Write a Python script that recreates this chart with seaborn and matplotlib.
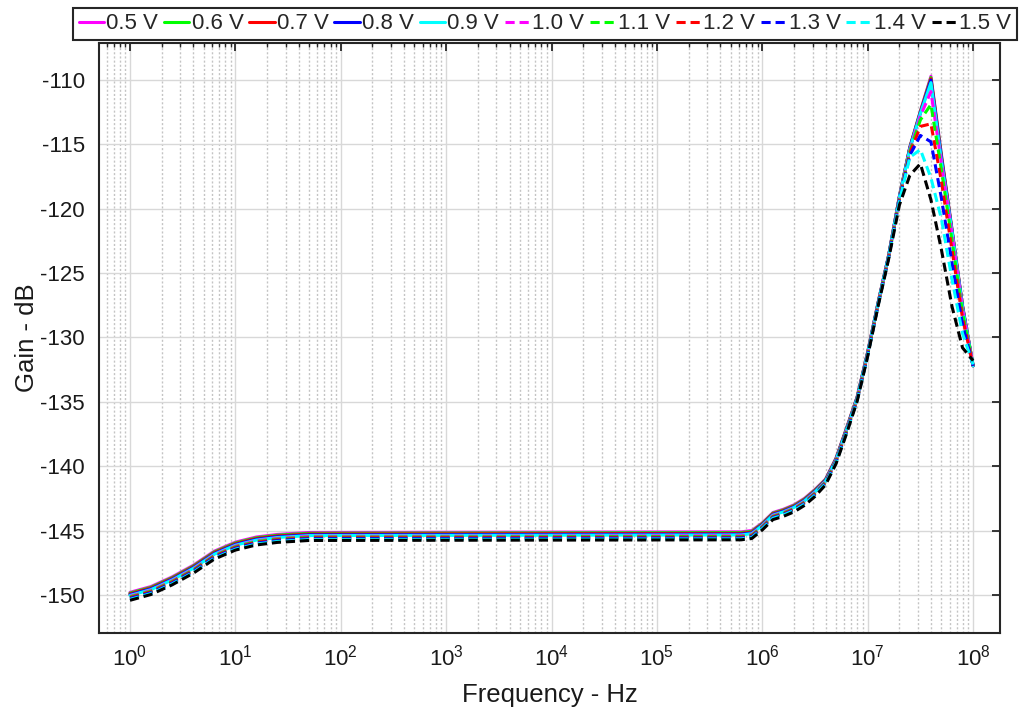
import numpy as np
import pandas as pd
import matplotlib
matplotlib.use("Agg")
import matplotlib.pyplot as plt
from matplotlib.lines import Line2D
from matplotlib.ticker import FixedLocator, LogLocator, NullFormatter
import seaborn as sns

# ---------------- data ----------------
freq_hz = [1, 1.58, 2.51, 3.98, 6.31, 10, 15.8, 25.1, 50, 6.31e5, 7.94e5,
           1e6, 1.26e6, 1.58e6, 2e6, 2.51e6, 3.16e6, 3.98e6, 5.01e6, 6.31e6, 7.94e6,
           1e7, 1.26e7, 1.58e7, 2e7, 2.51e7, 3.16e7, 3.98e7, 5.01e7, 6.31e7, 7.94e7, 1e8]

gain_0v5 = [-149.80, -149.35, -148.60, -147.70, -146.60, -145.90, -145.50, -145.30, -145.15, -145.10, -145.00,
            -144.40, -143.60, -143.35, -143.00, -142.50, -141.80, -141.00, -139.35, -137.00, -134.60,
            -131.10, -127.20, -123.60, -119.00, -115.20, -112.40, -109.70, -115.80, -121.60, -127.50, -132.20]
gain_0v6 = [-149.86, -149.41, -148.66, -147.76, -146.66, -145.96, -145.56, -145.36, -145.21, -145.16, -145.06,
            -144.45, -143.65, -143.40, -143.05, -142.55, -141.85, -141.04, -139.39, -137.04, -134.63,
            -131.13, -127.23, -123.62, -119.02, -115.22, -112.45, -109.80, -115.90, -121.65, -127.55, -132.20]
gain_0v7 = [-149.92, -149.47, -148.72, -147.82, -146.72, -146.02, -145.62, -145.42, -145.27, -145.22, -145.12,
            -144.50, -143.70, -143.45, -143.10, -142.60, -141.90, -141.08, -139.43, -137.08, -134.66,
            -131.16, -127.25, -123.64, -119.05, -115.25, -112.50, -109.90, -116.00, -121.70, -127.60, -132.20]
gain_0v8 = [-149.98, -149.53, -148.78, -147.88, -146.78, -146.08, -145.68, -145.48, -145.33, -145.28, -145.18,
            -144.55, -143.75, -143.50, -143.15, -142.65, -141.95, -141.12, -139.47, -137.12, -134.70,
            -131.20, -127.28, -123.66, -119.08, -115.30, -112.55, -110.00, -116.10, -121.75, -127.65, -132.20]
gain_0v9 = [-150.04, -149.59, -148.84, -147.94, -146.84, -146.14, -145.74, -145.54, -145.39, -145.34, -145.24,
            -144.60, -143.80, -143.55, -143.20, -142.70, -142.00, -141.16, -139.51, -137.16, -134.73,
            -131.23, -127.30, -123.68, -119.10, -115.35, -112.60, -110.20, -116.30, -121.80, -127.70, -132.20]
gain_1v0 = [-150.10, -149.65, -148.90, -148.00, -146.90, -146.20, -145.80, -145.60, -145.45, -145.40, -145.30,
            -144.65, -143.85, -143.60, -143.25, -142.75, -142.05, -141.20, -139.55, -137.20, -134.76,
            -131.26, -127.32, -123.70, -119.15, -115.45, -112.80, -110.90, -116.50, -122.00, -127.85, -132.20]
gain_1v1 = [-150.16, -149.71, -148.96, -148.06, -146.96, -146.26, -145.86, -145.66, -145.51, -145.46, -145.36,
            -144.70, -143.90, -143.65, -143.30, -142.80, -142.10, -141.24, -139.59, -137.24, -134.79,
            -131.29, -127.34, -123.72, -119.20, -115.55, -113.10, -111.90, -117.00, -122.50, -128.10, -132.20]
gain_1v2 = [-150.22, -149.77, -149.02, -148.12, -147.02, -146.32, -145.92, -145.72, -145.57, -145.52, -145.42,
            -144.75, -143.95, -143.70, -143.35, -142.85, -142.15, -141.28, -139.63, -137.28, -134.82,
            -131.32, -127.36, -123.74, -119.25, -115.70, -113.60, -113.40, -117.90, -123.20, -128.50, -132.20]
gain_1v3 = [-150.28, -149.83, -149.08, -148.18, -147.08, -146.38, -145.98, -145.78, -145.63, -145.58, -145.48,
            -144.80, -144.00, -143.75, -143.40, -142.90, -142.20, -141.32, -139.67, -137.32, -134.85,
            -131.35, -127.38, -123.76, -119.30, -115.85, -114.30, -114.80, -119.20, -124.20, -129.00, -132.20]
gain_1v4 = [-150.35, -149.90, -149.15, -148.25, -147.15, -146.45, -146.05, -145.85, -145.70, -145.65, -145.55,
            -144.85, -144.05, -143.80, -143.45, -142.95, -142.25, -141.36, -139.71, -137.36, -134.88,
            -131.38, -127.40, -123.78, -119.40, -116.00, -115.40, -117.60, -120.80, -125.50, -129.70, -132.10]
gain_1v5 = [-150.42, -149.97, -149.22, -148.32, -147.22, -146.52, -146.12, -145.92, -145.77, -145.72, -145.62,
            -144.95, -144.15, -143.90, -143.55, -143.05, -142.35, -141.45, -139.80, -137.45, -134.95,
            -131.45, -127.50, -123.90, -119.70, -117.40, -116.50, -119.30, -123.20, -127.60, -130.80, -131.80]

supply_labels = ["0.5 V", "0.6 V", "0.7 V", "0.8 V", "0.9 V",
                 "1.0 V", "1.1 V", "1.2 V", "1.3 V", "1.4 V", "1.5 V"]
gains = [gain_0v5, gain_0v6, gain_0v7, gain_0v8, gain_0v9,
         gain_1v0, gain_1v1, gain_1v2, gain_1v3, gain_1v4, gain_1v5]

x_tick_values = [1e0, 1e1, 1e2, 1e3, 1e4, 1e5, 1e6, 1e7, 1e8]
y_tick_values = [-150, -145, -140, -135, -130, -125, -120, -115, -110]

# ---------------- styles ----------------
line_colors = ["#FF00FF", "#00FF00", "#FF0000", "#0000FF", "#00FFFF",
               "#FF00FF", "#00FF00", "#FF0000", "#0000FF", "#00FFFF", "#000000"]
dash_on = (3.0, 1.6)
line_dashes = ["", "", "", "", "", dash_on, dash_on, dash_on, dash_on, dash_on, dash_on]
LW = 2.2
INK = "#262626"

sns.set_theme(style="white")
plt.rcParams["font.family"] = ["Liberation Sans", "DejaVu Sans"]
plt.rcParams["axes.unicode_minus"] = False
plt.rcParams["mathtext.fontset"] = "custom"
plt.rcParams["mathtext.rm"] = "Liberation Sans"
plt.rcParams["mathtext.it"] = "Liberation Sans:italic"
plt.rcParams["mathtext.bf"] = "Liberation Sans:bold"
plt.rcParams["mathtext.default"] = "regular"

df = pd.concat(
    [pd.DataFrame({"Frequency": freq_hz, "Gain": g, "Supply": s})
     for s, g in zip(supply_labels, gains)],
    ignore_index=True,
)

fig = plt.figure(figsize=(10.24, 7.11), dpi=100)
ax = fig.add_axes([99 / 1024, 1 - 633 / 711, 901 / 1024, 590 / 711])

sns.lineplot(
    data=df, x="Frequency", y="Gain", hue="Supply", style="Supply",
    hue_order=supply_labels, style_order=supply_labels,
    palette=dict(zip(supply_labels, line_colors)),
    dashes=dict(zip(supply_labels, line_dashes)),
    estimator=None, sort=False, linewidth=LW, legend=False, ax=ax,
)

ax.set_xscale("log")
ax.set_xlim(0.508, 1.8e8)
ax.set_ylim(-152.96, -107.12)

ax.xaxis.set_major_locator(FixedLocator(x_tick_values))
ax.xaxis.set_minor_locator(LogLocator(base=10, subs=np.arange(2, 10), numticks=100))
ax.xaxis.set_minor_formatter(NullFormatter())
ax.yaxis.set_major_locator(FixedLocator(y_tick_values))

ax.grid(which="major", axis="both", color="#d8d8d8", linewidth=1.0, linestyle="-")
ax.grid(which="minor", axis="x", color="#c4c4c4", linewidth=1.0, linestyle=(0, (1.5, 1.5)))
ax.set_axisbelow(True)

ax.tick_params(which="both", direction="in", top=True, right=True,
               colors=INK, labelcolor="#1a1a1a")
ax.tick_params(which="major", length=5.5, width=1.3, labelsize=16)
ax.tick_params(which="minor", length=3, width=1.0)
ax.tick_params(axis="x", which="major", pad=8)
ax.tick_params(axis="y", which="major", pad=10)

for sp in ax.spines.values():
    sp.set_color(INK)
    sp.set_linewidth(1.5)

ax.set_xlabel("Frequency - Hz", fontsize=18.5, color="#1a1a1a", labelpad=9)
ax.set_ylabel("Gain - dB", fontsize=18.5, color="#1a1a1a", labelpad=1)

handles = [Line2D([], [], color=c, linewidth=LW,
                  linestyle="-" if d == "" else (0, d))
           for c, d in zip(line_colors, line_dashes)]
leg = fig.legend(
    handles, supply_labels, ncol=11, loc="lower left",
    bbox_to_anchor=(73 / 1024, 1 - 40 / 711, 944 / 1024, 35 / 711),
    mode="expand", borderaxespad=0, fontsize=16, handlelength=1.15,
    handletextpad=0.1, columnspacing=0.3, borderpad=0.25,
    frameon=True, fancybox=False, framealpha=1,
)
leg.get_frame().set_edgecolor(INK)
leg.get_frame().set_linewidth(1.5)

fig.savefig("out.png", dpi=100)
